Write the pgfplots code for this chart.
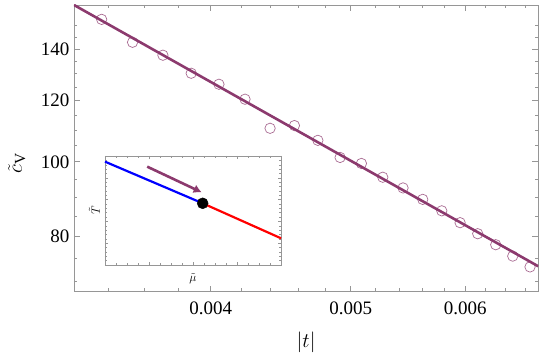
\documentclass[border=0pt]{standalone}
\usepackage{fontspec}
\setmainfont{Liberation Serif}
\usepackage{pgfplots}
\pgfplotsset{compat=1.18}
\usetikzlibrary{arrows.meta,calc}
\definecolor{plum}{RGB}{140,58,110}
\definecolor{framegray}{RGB}{150,150,150}
\begin{document}
\begin{tikzpicture}
\begin{axis}[name=main,
  xmode=log, ymode=log,
  scale only axis, width=464.3pt, height=286.7pt,
  xmin=0.003217, xmax=0.006742, ymin=67.9, ymax=159.6,
  xtick={0.004,0.005,0.006},
  xticklabels={\mbox{0.004},\mbox{0.005},\mbox{0.006}},
  minor xtick={0.0034,0.0036,0.0038,0.0042,0.0044,0.0046,0.0048,0.0052,0.0054,0.0056,0.0058,0.0062,0.0064,0.0066},
  ytick={80,100,120,140},
  yticklabels={\mbox{80},\mbox{100},\mbox{120},\mbox{140}},
  minor ytick={70,75,85,90,95,105,110,115,125,130,135,145,150},
  tick align=inside,
  major tick length=6pt, minor tick length=3.5pt,
  axis line style={framegray, line width=0.7pt},
  tick style={framegray, line width=0.6pt},
  every tick label/.append style={font=\fontsize{19}{22}\selectfont, inner sep=0pt},
  xticklabel style={yshift=-10pt},
  yticklabel style={xshift=-4.5pt},
  xlabel={\fontsize{20}{24}\selectfont$|t|$},
  ylabel={\fontsize{22}{26}\selectfont$\tilde{c}_{\mathrm{V}}$},
  xlabel style={at={(axis description cs:0.5,-0.178)}, anchor=center},
  ylabel style={at={(axis description cs:-0.123,0.449)}, anchor=center},
]
\addplot[plum, line width=2.6pt] coordinates {(0.003217,159.6) (0.006742,73.24)};
\addplot[only marks, mark=o, mark size=5.2pt, mark options={plum, opacity=0.75, line width=0.7pt}]
coordinates {
(0.003362,152.9) (0.003532,142.8) (0.003707,137.4) (0.003878,130.2) (0.004053,126.0)
(0.004225,120.5) (0.004397,110.5) (0.004571,111.4) (0.004745,106.6) (0.004916,101.3)
(0.005086,99.5) (0.005262,95.5) (0.005435,92.5) (0.005608,89.4) (0.005781,86.4)
(0.005952,83.4) (0.006122,80.7) (0.006300,78.1) (0.006473,75.5) (0.006654,73.1)
};
\end{axis}
\begin{axis}[
  at={($(main.south west)+(31pt,26.7pt)$)}, anchor=south west,
  scale only axis, width=176pt, height=109pt,
  xmin=0, xmax=1, ymin=0, ymax=1,
  axis background/.style={fill=white},
  xtick distance=0.25, ytick distance=0.2,
  minor x tick num=3, minor y tick num=4,
  xticklabels={}, yticklabels={},
  tick align=inside,
  major tick length=3pt, minor tick length=2pt,
  axis line style={framegray, line width=0.6pt},
  tick style={framegray, line width=0.4pt},
  xlabel={\fontsize{13}{15}\selectfont$\tilde{\mu}$}, ylabel={\fontsize{13}{15}\selectfont$\tilde{T}$},
  xlabel style={at={(axis description cs:0.5,-0.13)}, anchor=center},
  ylabel style={at={(axis description cs:-0.06,0.5)}, anchor=center},
  clip=false,
]
\addplot[blue, line width=2.2pt] coordinates {(0,0.948) (0.555,0.566)};
\addplot[red, line width=2.2pt] coordinates {(0.555,0.566) (1,0.245)};
\addplot[plum, line width=2.6pt, -{Latex[length=8pt,width=9pt]}] coordinates {(0.240,0.902) (0.549,0.667)};
\addplot[only marks, mark=*, mark size=5.5pt, mark options={black}] coordinates {(0.555,0.566)};
\end{axis}
\pgfresetboundingbox
\path ([shift={(-74pt,-67.3pt)}]main.south west) rectangle ([shift={(6.7pt,5pt)}]main.north east);
\end{tikzpicture}
\end{document}
